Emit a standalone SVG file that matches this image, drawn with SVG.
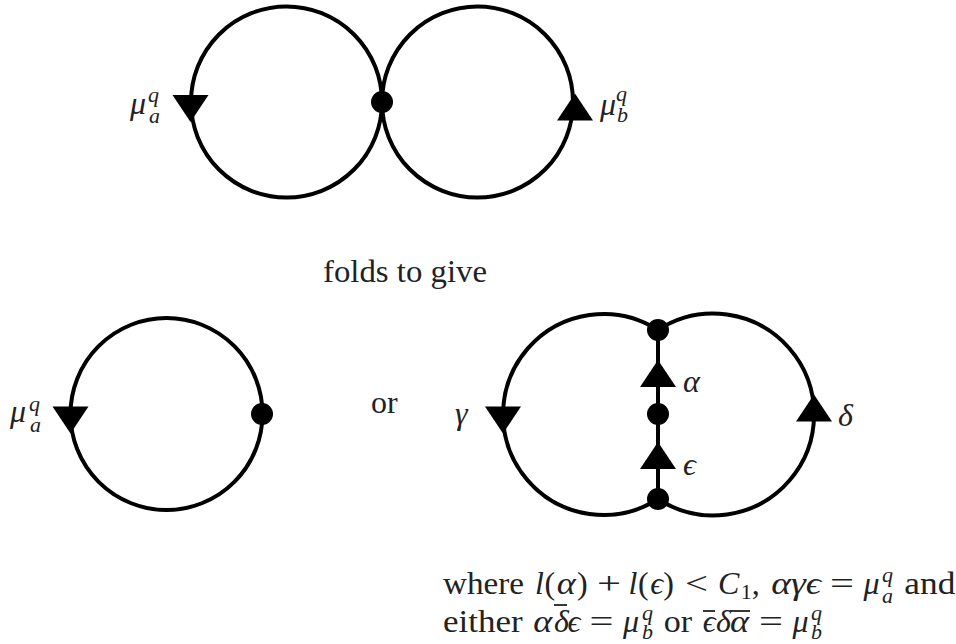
<svg xmlns="http://www.w3.org/2000/svg" xmlns:xlink="http://www.w3.org/1999/xlink" width="956" height="644" viewBox="0 0 956 644">
<style>
.edge{fill:none;stroke:#000;stroke-width:4}
.dot{fill:#000}
.tri{fill:#000}
.rm{font-family:"Liberation Serif","DejaVu Serif",serif;font-size:32px;fill:#222}
.it{font-family:"Liberation Serif","DejaVu Serif",serif;font-style:italic;font-size:32px;fill:#222}
.sc{font-family:"Liberation Serif","DejaVu Serif",serif;font-style:italic;font-size:22px;fill:#222}
.sr{font-family:"Liberation Serif","DejaVu Serif",serif;font-size:22px;fill:#222}
.bar{stroke:#222;stroke-width:1.8}
</style>
<defs>
<path id="tri" d="M-18,-13.5 L18,-13.5 L0,13.5 Z"/>
</defs>
<rect width="956" height="644" fill="#fff"/>
<g id="connectors">
<circle class="edge" cx="286.5" cy="102" r="95.5"/>
<circle class="edge" cx="477.5" cy="102" r="95.5"/>
<circle class="edge" cx="166.5" cy="414" r="96"/>
<path class="edge" d="M658,330 A100.5,100.5 0 1 0 658,499"/>
<path class="edge" d="M658,330 A100.9,100.9 0 1 1 658,499"/>
<path class="edge" d="M658,330 V499"/>
</g>
<g id="arrows">
<use xlink:href="#tri" class="tri" transform="translate(190.5,108.5)"/>
<use xlink:href="#tri" class="tri" transform="translate(575,107) rotate(180)"/>
<use xlink:href="#tri" class="tri" transform="translate(70.5,420)"/>
<use xlink:href="#tri" class="tri" transform="translate(503,420)"/>
<use xlink:href="#tri" class="tri" transform="translate(814,408) rotate(180)"/>
<use xlink:href="#tri" class="tri" transform="translate(658,373.5) rotate(180)"/>
<use xlink:href="#tri" class="tri" transform="translate(658,455.5) rotate(180)"/>
</g>
<g id="node-top-junction"><circle class="dot" cx="382" cy="102" r="11"/></g>
<g id="node-left-vertex"><circle class="dot" cx="262" cy="414" r="11"/></g>
<g id="node-right-top"><circle class="dot" cx="658" cy="330" r="11"/></g>
<g id="node-right-mid"><circle class="dot" cx="658" cy="414" r="11"/></g>
<g id="node-right-bottom"><circle class="dot" cx="658" cy="499" r="11"/></g>
<g id="labels">
<text class="it" x="130" y="114">μ</text><text class="sc" x="148" y="102">q</text><text class="sc" x="149" y="123">a</text>
<text class="it" x="600" y="115">μ</text><text class="sc" x="616" y="101">q</text><text class="sc" x="617" y="122">b</text>
<text class="rm" x="323" y="282" textLength="164" lengthAdjust="spacingAndGlyphs">folds to give</text>
<text class="it" x="10" y="422">μ</text><text class="sc" x="29" y="411">q</text><text class="sc" x="30" y="432">a</text>
<text class="rm" x="371" y="413">or</text>
<text class="it" x="455" y="424">γ</text>
<text class="it" x="683" y="392">α</text>
<text class="it" x="683" y="475">ϵ</text>
<text class="it" x="838" y="426">δ</text>
</g>
<g id="caption">
<text class="rm" x="443" y="594" textLength="81" lengthAdjust="spacingAndGlyphs">where</text>
<text class="it" x="535" y="594">l</text>
<text class="rm" x="544.4" y="594">(</text>
<text class="it" x="556.8" y="594" textLength="19" lengthAdjust="spacingAndGlyphs">α</text>
<text class="rm" x="577.1" y="594">)</text>
<text class="rm" x="597" y="594" textLength="24" lengthAdjust="spacingAndGlyphs">+</text>
<text class="it" x="628.4" y="594">l</text>
<text class="rm" x="637.9" y="594">(</text>
<text class="it" x="650.3" y="594">ϵ</text>
<text class="rm" x="663.2" y="594">)</text>
<text class="rm" x="685" y="594" textLength="23" lengthAdjust="spacingAndGlyphs">&lt;</text>
<text class="it" x="718" y="594">C</text>
<text class="sr" x="740.7" y="599">1</text>
<text class="rm" x="751.8" y="594">,</text>
<text class="it" x="771.3" y="594" textLength="49.7" lengthAdjust="spacingAndGlyphs">αγϵ</text>
<text class="rm" x="830" y="594" textLength="24" lengthAdjust="spacingAndGlyphs">=</text>
<text class="it" x="863.4" y="594">μ</text><text class="sc" x="882" y="582">q</text><text class="sc" x="882" y="603">a</text>
<text class="rm" x="904.3" y="594" textLength="51" lengthAdjust="spacingAndGlyphs">and</text>
<text class="rm" x="443" y="632" textLength="79.6" lengthAdjust="spacingAndGlyphs">either</text>
<text class="it" x="533.2" y="632" textLength="19" lengthAdjust="spacingAndGlyphs">α</text>
<text class="it" x="554" y="632">δ</text>
<text class="it" x="567.6" y="632">ϵ</text>
<line class="bar" x1="554" y1="605" x2="567" y2="605"/>
<text class="rm" x="589.5" y="632" textLength="24" lengthAdjust="spacingAndGlyphs">=</text>
<text class="it" x="622.9" y="632">μ</text><text class="sc" x="642" y="620">q</text><text class="sc" x="642" y="639">b</text>
<text class="rm" x="663.8" y="632" textLength="28.4" lengthAdjust="spacingAndGlyphs">or</text>
<text class="it" x="702.8" y="632">ϵ</text>
<text class="it" x="716" y="632">δ</text>
<text class="it" x="730" y="632" textLength="19" lengthAdjust="spacingAndGlyphs">α</text>
<line class="bar" x1="703" y1="611" x2="715" y2="611"/>
<line class="bar" x1="730" y1="611" x2="750" y2="611"/>
<text class="rm" x="759" y="632" textLength="24" lengthAdjust="spacingAndGlyphs">=</text>
<text class="it" x="792.5" y="632">μ</text><text class="sc" x="811" y="620">q</text><text class="sc" x="811" y="639">b</text>
</g>
</svg>
